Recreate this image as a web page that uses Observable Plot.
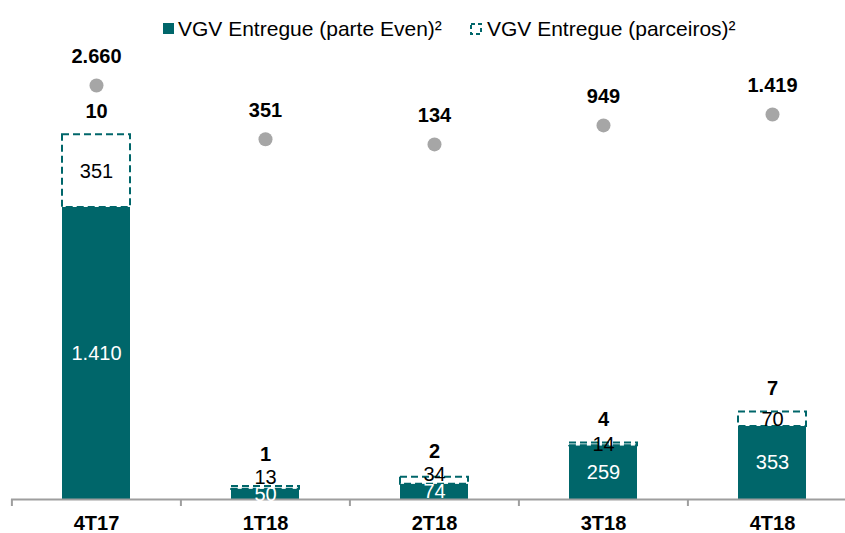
<!DOCTYPE html>
<html>
<head>
<meta charset="utf-8">
<script src="https://cdn.jsdelivr.net/npm/d3@7"></script>
<script src="https://cdn.jsdelivr.net/npm/@observablehq/plot@0.6"></script>
<style>
  html, body { margin: 0; padding: 0; background: #fff; overflow: hidden; }
  body { width: 845px; height: 533px; font-family: "Liberation Sans", Arial, sans-serif; }
  #legend { position: relative; width: 845px; height: 40px; font-size: 21px; color: #000; }
  .item { position: absolute; top: 17px; height: 24px; line-height: 24px; white-space: nowrap; }
  .item svg { position: absolute; top: 6px; left: 0; }
  .item span { position: absolute; top: 0; }
  #chart svg { display: block; }
</style>
</head>
<body>
<div id="legend">
  <div class="item" style="left:163px"><svg width="11" height="11"><rect x="0" y="0" width="11" height="11" fill="#00666A"/></svg><span style="left:15px">VGV Entregue (parte Even)²</span></div>
  <div class="item" style="left:470px"><svg width="13" height="13"><rect x="1" y="1" width="10" height="10" fill="#fff" stroke="#00666A" stroke-width="2" stroke-dasharray="4,3"/></svg><span style="left:17px">VGV Entregue (parceiros)²</span></div>
</div>
<div id="chart"></div>
<script>
const quarters = ["4T17", "1T18", "2T18", "3T18", "4T18"];
const evenPart = [1410, 50, 74, 259, 353];
const partners = [351, 13, 34, 14, 70];
const projects = [10, 1, 2, 4, 7];
const totalVGV = [2660, 351, 134, 949, 1419];

const teal = "#00666A";
const W = 845, H = 493, MB = 34, MT = 0;
const plotH = H - MB - MT;
const yMax = 2216;
const u = yMax / plotH; // data units per pixel

const br = d3.formatLocale({decimal: ",", thousands: ".", grouping: [3], currency: ["R$", ""]});
const fmt = br.format(",d");

// secondary scale for the dot series (mapped into the primary units)
const sec = d3.scaleLinear().domain([0, 2660]).range([(plotH - 107) * u, (plotH - 45) * u]);

const rows = quarters.map((q, i) => {
  const e = evenPart[i], p = partners[i];
  const top = e + p;
  const tealLabel = e / 2;
  const partnerLabel = Math.max(e + p / 2, tealLabel + 17 * u);
  const countLabel = Math.max(top, partnerLabel) + 23 * u;
  const dotY = sec(totalVGV[i]);
  return {q, e, p, top, tealLabel, partnerLabel, countLabel, n: projects[i], total: totalVGV[i], dotY, dotLabel: dotY + 29 * u};
});

const chart = Plot.plot({
  width: W,
  height: H,
  marginTop: MT,
  marginBottom: MB,
  marginLeft: 11,
  marginRight: -12,
  style: {fontFamily: '"Liberation Sans", Arial, sans-serif', overflow: "visible", background: "#fff"},
  x: {domain: quarters, paddingInner: 0.6, paddingOuter: 0.3, axis: null},
  y: {domain: [0, yMax], axis: null},
  marks: [
    Plot.barY(rows, {x: "q", y: "e", fill: teal}),
    Plot.barY(rows, {x: "q", y1: "e", y2: "top", fill: "#fff", stroke: teal, strokeWidth: 2, strokeDasharray: "7,4"}),
    Plot.ruleY([0], {stroke: "#9E9E9E", strokeWidth: 2}),
    Plot.ruleX(quarters, {x: d => d, dx: -84.6, y1: 0, y2: -7 * u, stroke: "#9E9E9E", strokeWidth: 2}),
    Plot.axisX({tickSize: 0, tickPadding: 16, fontSize: 20, fontWeight: "bold", fill: "#000", label: null}),
    Plot.text(rows, {x: "q", y: "tealLabel", text: d => fmt(d.e), fill: "#fff", fontSize: 20}),
    Plot.text(rows, {x: "q", y: "partnerLabel", text: d => fmt(d.p), fill: "#000", fontSize: 20}),
    Plot.text(rows, {x: "q", y: "countLabel", text: d => fmt(d.n), fill: "#000", fontSize: 20, fontWeight: "bold"}),
    Plot.dot(rows, {x: "q", y: "dotY", r: 7, fill: "#A6A6A6", stroke: null}),
    Plot.text(rows, {x: "q", y: "dotLabel", text: d => fmt(d.total), fill: "#000", fontSize: 20, fontWeight: "bold"})
  ]
});
document.getElementById("chart").appendChild(chart);
</script>
</body>
</html>
